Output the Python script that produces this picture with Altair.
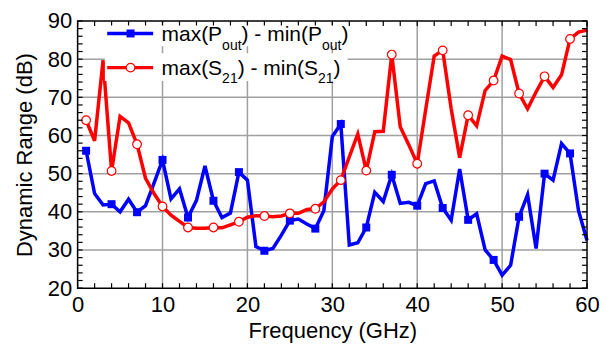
import altair as alt
import pandas as pd

freq = list(range(1, 61))
p_range = [56, 44.8, 41.8, 42, 40, 43.3, 39.9, 41.6, 47.5, 53.6,
           43.4, 46, 38.5, 43, 52, 42.9, 38.5, 39.7, 50.4, 48.3,
           30.9, 29.8, 30.4, 33.9, 37.7, 38.1, 36.8, 35.6, 40.3, 59.7,
           63, 31.3, 31.9, 35.9, 45.1, 42.7, 49.7, 42.2, 42.5, 41.6,
           47.4, 48.1, 41, 37.8, 51.2, 37.9, 39.5, 30, 27.4, 23.4,
           26, 38.7, 44.5, 30.4, 50, 48.3, 57.9, 55.3, 40.3, 32.5]
s_range = [64, 58.6, 79.7, 50.7, 65, 63.3, 57.7, 48.8, 44.8, 41.4,
           39.1, 37.5, 35.9, 35.7, 35.7, 35.9, 35.8, 36.6, 37.4, 38.6,
           39, 38.9, 38.7, 38.9, 39.6, 39.6, 40.6, 40.8, 42.6, 46,
           48.3, 54.4, 60.4, 50.8, 61, 61.1, 81.2, 62.3, 57.6, 52.6,
           66.8, 80.8, 82.3, 67, 54.2, 65.3, 62.5, 71.8, 74.4, 80.8,
           79.9, 71, 67, 71.4, 75.5, 72.6, 75.9, 85.3, 87.1, 87.6]
x_major = [0, 10, 20, 30, 40, 50, 60]
y_major = [20, 30, 40, 50, 60, 70, 80, 90]
x_grid = [10, 20, 30, 40, 50]
y_grid = [30, 40, 50, 60, 70, 80]
x_minor = list(range(0, 61, 2))
y_minor = list(range(20, 91, 2))
legend_rows = [
    [("max(P", False), ("out", True), (") - min(P", False), ("out", True), (")", False)],
    [("max(S", False), ("21", True), (") - min(S", False), ("21", True), (")", False)],
]
legend_colors = ["#0000FF", "#FF0000"]

W, H = 510, 267.5
FONT = "Liberation Sans"
AFS = 22
FS, SFS = 21, 14
BLUE, RED = "#0000FF", "#FF0000"

df = pd.DataFrame({"f": freq, "P": p_range, "S": s_range})
mk = df[(df["f"] - 1) % 3 == 0]

xs = alt.Scale(domain=[0, 60], nice=False, zero=False)
ys = alt.Scale(domain=[20, 90], nice=False, zero=False)

xaxis = alt.Axis(values=x_major, title="Frequency (GHz)", grid=False, ticks=False,
                 domain=False, labelPadding=6, titlePadding=5, labelFlush=False,
                 labelOverlap=False, labelFontSize=AFS, titleFontSize=AFS, tickCount=7)
yaxis = alt.Axis(values=y_major, title="Dynamic Range (dB)", grid=False, ticks=False,
                 domain=False, labelPadding=6, titlePadding=11, labelFlush=False,
                 labelOverlap=False, labelFontSize=AFS, titleFontSize=AFS, tickCount=8)

def X(field):
    return alt.X(field, type="quantitative", scale=xs, axis=xaxis)

def Y(field):
    return alt.Y(field, type="quantitative", scale=ys, axis=yaxis)

one = pd.DataFrame({"a": [0]})
grid_style = dict(color="#a0a0a0", strokeWidth=1.5)
grid_v = alt.Chart(pd.DataFrame({"g": x_grid})).mark_rule(**grid_style).encode(
    x=X("g"), y=alt.value(0), y2=alt.value(H))
grid_h = alt.Chart(pd.DataFrame({"g": y_grid})).mark_rule(**grid_style).encode(
    y=Y("g"), x=alt.value(0), x2=alt.value(W))

base = alt.Chart(df)
blue_line = base.mark_line(color=BLUE, strokeWidth=3.5).encode(x=X("f"), y=Y("P"))
red_line = base.mark_line(color=RED, strokeWidth=3.5).encode(x=X("f"), y=Y("S"))
blue_pts = alt.Chart(mk).mark_point(shape="square", filled=True, color=BLUE, size=64,
                                    opacity=1).encode(x=X("f"), y=Y("P"))
red_pts = alt.Chart(mk).mark_point(shape="circle", filled=True, fill="white", stroke=RED,
                                   strokeWidth=1.2, size=75, opacity=1).encode(x=X("f"), y=Y("S"))

xt = alt.Chart(pd.DataFrame({"t": x_minor}))
yt = alt.Chart(pd.DataFrame({"t": y_minor}))
tick_style = dict(color="black", strokeWidth=1.2)
ticks = [
    xt.mark_rule(**tick_style).encode(x=X("t"), y=alt.value(H), y2=alt.value(H - 5)),
    xt.mark_rule(**tick_style).encode(x=X("t"), y=alt.value(0), y2=alt.value(5)),
    yt.mark_rule(**tick_style).encode(y=Y("t"), x=alt.value(0), x2=alt.value(5)),
    yt.mark_rule(**tick_style).encode(y=Y("t"), x=alt.value(W), x2=alt.value(W - 5)),
]
frame = alt.Chart(one).mark_rect(filled=False, stroke="black", strokeWidth=1.5).encode(
    x=alt.value(0), x2=alt.value(W), y=alt.value(0), y2=alt.value(H))

# legend (hand-built for subscripts)
AW = {'m': 833, 'a': 556, 'x': 500, '(': 333, 'P': 667, ')': 333, ' ': 278, '-': 333,
      'i': 222, 'n': 556, 'S': 667, 'o': 556, 'u': 556, 't': 278, '2': 556, '1': 556}
def tw(s, fs):
    return sum(AW[c] for c in s) * fs / 1000.0

leg_layers = []
row_line_y = [12.5, 46.7]
row_base = [19.9, 53.9]
row_sub = [28.7, 62.2]
row_box = [(4.5, 25.2), (32.2, 60.2)]
for i, row in enumerate(legend_rows):
    y0, y1 = row_box[i]
    leg_layers.append(alt.Chart(one).mark_rect(fill="white", stroke=None).encode(
        x=alt.value(27.3), x2=alt.value(270.3), y=alt.value(y0), y2=alt.value(y1)))
    leg_layers.append(alt.Chart(one).mark_rule(color=legend_colors[i], strokeWidth=3.5).encode(
        x=alt.value(29.6), x2=alt.value(75.6), y=alt.value(row_line_y[i])))
    if i == 0:
        leg_layers.append(alt.Chart(one).mark_point(shape="square", filled=True, color=BLUE,
                                                    size=64, opacity=1).encode(
            x=alt.value(53), y=alt.value(row_line_y[i])))
    else:
        leg_layers.append(alt.Chart(one).mark_point(shape="circle", filled=True, fill="white",
                                                    stroke=RED, strokeWidth=1.2, size=75,
                                                    opacity=1).encode(
            x=alt.value(53), y=alt.value(row_line_y[i])))
    cx = 84.0
    for txt, sub in row:
        fs = SFS if sub else FS
        leg_layers.append(alt.Chart(one).mark_text(
            text=txt, align="left", baseline="alphabetic", font=FONT, fontSize=fs,
            color="black").encode(x=alt.value(cx), y=alt.value(row_sub[i] if sub else row_base[i])))
        cx += tw(txt, fs)

chart = alt.layer(grid_v, grid_h, blue_line, red_line, blue_pts, red_pts, *ticks, frame,
                  *leg_layers).properties(
    width=W, height=H,
    autosize=alt.AutoSizeParams(type="none"),
    padding={"left": 69.7, "top": 12.8, "right": 16, "bottom": 56},
).configure_view(stroke=None).configure_axis(
    labelFont=FONT, titleFont=FONT, labelFontSize=AFS, titleFontSize=AFS,
    labelColor="black", titleColor="black", titleFontWeight="normal",
)

chart.save("out.html", embed_options={"renderer": "svg", "actions": False})
